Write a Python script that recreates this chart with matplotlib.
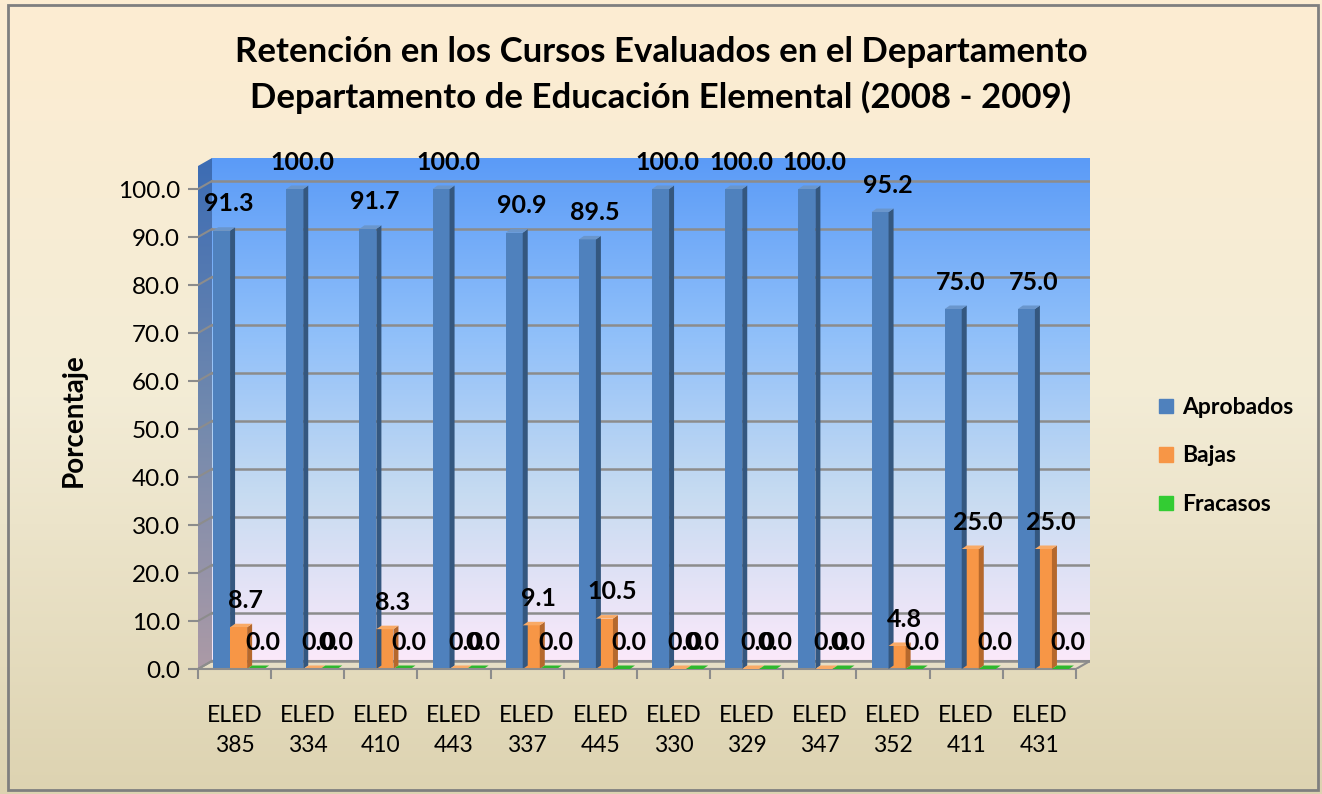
import matplotlib
matplotlib.use('Agg')
import numpy as np
import matplotlib.pyplot as plt
from matplotlib.patches import Polygon, Rectangle, Patch
from matplotlib.colors import LinearSegmentedColormap

plt.rcParams['font.family'] = ['Lato', 'DejaVu Sans']

# data
cursos = ['ELED\n385', 'ELED\n334', 'ELED\n410', 'ELED\n443', 'ELED\n337', 'ELED\n445',
          'ELED\n330', 'ELED\n329', 'ELED\n347', 'ELED\n352', 'ELED\n411', 'ELED\n431']
aprobados = [91.3, 100.0, 91.7, 100.0, 90.9, 89.5, 100.0, 100.0, 100.0, 95.2, 75.0, 75.0]
bajas = [8.7, 0.0, 8.3, 0.0, 9.1, 10.5, 0.0, 0.0, 0.0, 4.8, 25.0, 25.0]
fracasos = [0.0, 0.0, 0.0, 0.0, 0.0, 0.0, 0.0, 0.0, 0.0, 0.0, 0.0, 0.0]
nombres = ['Aprobados', 'Bajas', 'Fracasos']

# colours: front, side, top
estilos = [('#4F81BD', '#34577F', '#6A96CC'),
           ('#F79646', '#B5682C', '#F9AA66'),
           ('#33CC33', '#1F991F', '#2DB82D')]

W, H = 1322, 794
fig = plt.figure(figsize=(W / 100, H / 100), dpi=100)

# chart background
bg = fig.add_axes([0, 0, 1, 1], zorder=-5)
bg_cmap = LinearSegmentedColormap.from_list('bg', ['#FDEDD2', '#F3ECD6', '#DDD3B1'])
bg.imshow(np.linspace(0, 1, 256).reshape(-1, 1), cmap=bg_cmap, aspect='auto',
          extent=(0, 1, 0, 1), origin='upper')
bg.add_patch(Rectangle((8 / W, 4 / H), 1310 / W, 785 / H, fill=False,
                       ec='#7F7F7F', lw=2))
bg.set_xlim(0, 1)
bg.set_ylim(0, 1)
bg.axis('off')

px_x = 73.1   # px per category
px_y = 4.8    # px per percent
DX = 14 / px_x
DY = 8 / px_y
BDX = 5 / px_x
BDY = 3.5 / px_y
ytop = 511 / px_y
n = len(cursos)

ax = fig.add_axes([198 / W, (H - 669) / H, 892 / W, 511 / H])
ax.set_facecolor('none')
xmin, xmax = -0.5, n - 0.5

# back wall gradient
wall_cmap = LinearSegmentedColormap.from_list(
    'wall', ['#5B9BF7', '#8DBEFA', '#C6DBF1', '#FBE9FA'])
ax.imshow(np.linspace(0, 1, 256).reshape(-1, 1), cmap=wall_cmap, aspect='auto',
          extent=(xmin + DX, xmax + DX, DY, ytop), origin='upper', zorder=0)

# left side wall gradient
side = Polygon([(xmin, 0), (xmin + DX, DY), (xmin + DX, ytop), (xmin, ytop - DY)],
               closed=True, fc='none', ec='none')
ax.add_patch(side)
side_cmap = LinearSegmentedColormap.from_list('side', ['#3C6CB4', '#7189AE', '#AC9AA6'])
im = ax.imshow(np.linspace(0, 1, 256).reshape(-1, 1), cmap=side_cmap, aspect='auto',
               extent=(xmin, xmin + DX, 0, ytop), origin='upper', zorder=0.5)
im.set_clip_path(side)

# floor
ax.add_patch(Polygon([(xmin, 0), (xmax, 0), (xmax + DX, DY), (xmin + DX, DY)],
                     closed=True, fc='#E6DEC6', ec='#8C8C8C', lw=1.5, zorder=1))

# gridlines on back and side wall
for v in range(0, 101, 10):
    ax.plot([xmin + DX, xmax + DX], [v + DY, v + DY], color='#8C8C8C', lw=1.8, zorder=1.2)
    ax.plot([xmin, xmin + DX], [v, v + DY], color='#8C8C8C', lw=1.5, zorder=1.2)

# 3D bars
bw = 17 / px_x
offsets = [-0.178, 0.055, 0.288]
x = np.arange(n)
for s, vals in enumerate([aprobados, bajas, fracasos]):
    front, lado, tapa = estilos[s]
    xs = x + offsets[s]
    for i in range(n):
        z = 2 + i * 0.1 + s * 0.01
        v = vals[i]
        x0 = xs[i] - bw / 2
        x1 = xs[i] + bw / 2
        ax.add_patch(Polygon([(x1, 0), (x1 + BDX, BDY), (x1 + BDX, v + BDY), (x1, v)],
                             closed=True, fc=lado, ec='none', zorder=z))
        ax.add_patch(Polygon([(x0, v), (x1, v), (x1 + BDX, v + BDY), (x0 + BDX, v + BDY)],
                             closed=True, fc=tapa, ec='none', zorder=z))
    ax.bar(xs, vals, width=bw, color=front, zorder=2.05 + s * 0.01)
    for i in range(n):
        ax.text(xs[i] + 0.1, vals[i] + 5.6, f'{vals[i]:.1f}', ha='center', va='center',
                fontsize=18, fontweight='bold', color='black', zorder=10)

# axes styling
ax.set_xlim(xmin, xmax + DX)
ax.set_ylim(0, ytop)
for sp in ['top', 'right', 'left']:
    ax.spines[sp].set_visible(False)
ax.spines['bottom'].set_bounds(xmin, xmax)
ax.spines['bottom'].set_color('#8C8C8C')
ax.spines['bottom'].set_linewidth(1.5)

ax.set_yticks(range(0, 101, 10))
ax.set_yticklabels([f'{v:.1f}' for v in range(0, 101, 10)], fontsize=17.5)
ax.tick_params(axis='y', direction='out', length=7, width=1.5, color='#8C8C8C', pad=6)

ax.set_xticks(x)
ax.set_xticklabels(cursos, fontsize=16.5, linespacing=1.55)
ax.tick_params(axis='x', which='major', length=0, pad=26)
ax.set_xticks(np.arange(xmin, xmax + 0.01, 1.0), minor=True)
ax.tick_params(axis='x', which='minor', direction='out', length=7, width=1.5,
               color='#8C8C8C')

fig.text(74 / W, 1 - 420 / H, 'Porcentaje', rotation=90, ha='center', va='center',
         fontsize=20, fontweight='bold')

fig.text(661 / W, 1 - 75 / H,
         'Retención en los Cursos Evaluados en el Departamento\n'
         'Departamento de Educación Elemental (2008 - 2009)',
         ha='center', va='center', fontsize=25, fontweight='bold', linespacing=1.5)

handles = [Patch(color=estilos[k][0]) for k in range(3)]
fig.legend(handles, nombres, loc='center left', bbox_to_anchor=(1148 / W, 1 - 456 / H),
           frameon=False, prop={'size': 16.5, 'weight': 'bold'}, handlelength=0.6,
           handleheight=0.6, handletextpad=0.4, labelspacing=1.2, borderpad=0)

fig.savefig('out.png', dpi=100)
